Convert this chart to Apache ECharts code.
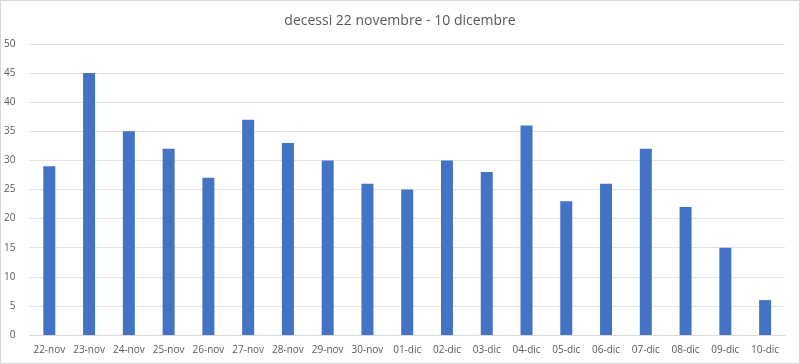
<!DOCTYPE html>
<html><head><meta charset="utf-8">
<script src="https://cdn.jsdelivr.net/npm/echarts@6/dist/echarts.min.js"></script>
<style>html,body{margin:0;padding:0;background:#fff}#c{width:800px;height:364px;box-sizing:border-box;border:1px solid #d9d9d9}</style>
</head><body><div id="c"></div>
<script>
const categories = ['22-nov','23-nov','24-nov','25-nov','26-nov','27-nov','28-nov','29-nov','30-nov','01-dic','02-dic','03-dic','04-dic','05-dic','06-dic','07-dic','08-dic','09-dic','10-dic'];
const decessi = [29,45,35,32,27,37,33,30,26,25,30,28,36,23,26,32,22,15,6];
const titleText = 'decessi 22 novembre - 10 dicembre';
const chart = echarts.init(document.getElementById('c'));
chart.setOption({
  animation:false,
  title:{text:titleText,left:'center',top:8,textStyle:{fontFamily:'Open Sans',fontSize:14,fontWeight:'normal',color:'#595959'}},
  grid:{left:27,right:14,top:43,bottom:28},
  xAxis:{type:'category',data:categories,axisTick:{show:false},axisLine:{lineStyle:{color:'#d9d9d9'}},
    axisLabel:{color:'#595959',fontFamily:'Open Sans',fontSize:10,margin:10,interval:0}},
  yAxis:{type:'value',min:0,max:50,interval:5,axisLabel:{color:'#595959',fontFamily:'Open Sans',fontSize:10,margin:14},
    splitLine:{lineStyle:{color:'#e3e3e3'}}},
  series:[{type:'bar',data:decessi,barWidth:12,itemStyle:{color:'#4472C4'}}]
});
</script></body></html>
